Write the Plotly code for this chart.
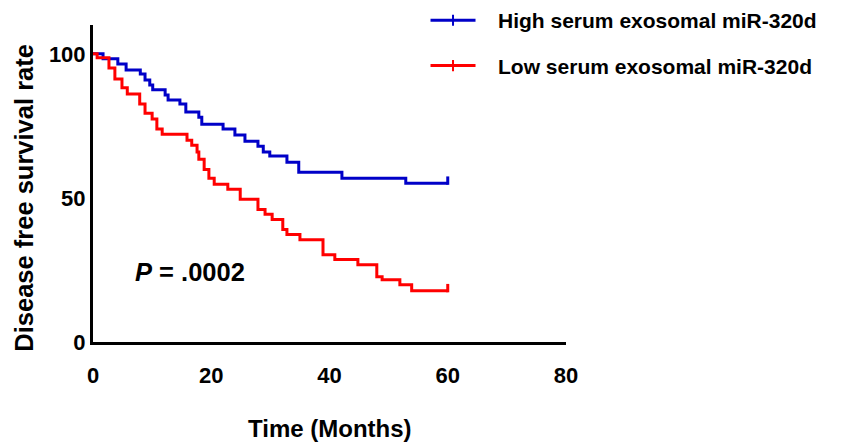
import plotly.graph_objects as go

# Kaplan-Meier style step data (months, % disease-free)
high_time = [0, 1.7, 4.2, 5.6, 8.0, 8.8, 9.6, 10.1, 12.2, 12.7, 14.7, 15.7, 17.9, 18.4,
             22.0, 24.0, 25.7, 27.9, 28.8, 29.9, 32.8, 34.8, 42.1, 52.9, 60]
high_surv = [100, 98.3, 96.5, 94.4, 93.0, 90.9, 89.2, 87.5, 85.7, 84.0, 82.6, 79.8, 78.0, 75.6,
             73.9, 71.8, 69.7, 67.9, 65.9, 64.5, 62.4, 58.9, 56.8, 55.1, 55.1]

low_time = [0, 0.7, 2.7, 3.7, 4.9, 5.8, 7.9, 8.8, 10.0, 10.8, 11.7, 15.9, 16.7, 17.6, 17.9,
            18.8, 19.6, 20.5, 22.8, 24.9, 27.9, 29.1, 30.3, 32.1, 32.8, 35.0, 38.9, 40.9,
            44.8, 48.0, 48.9, 51.9, 53.9, 60]
low_surv = [100, 98.6, 95.1, 91.3, 88.2, 86.1, 82.6, 79.4, 77.4, 73.9, 72.1, 70.0, 68.3, 65.9, 63.4,
            59.9, 56.8, 54.7, 53.0, 49.5, 46.0, 44.3, 42.5, 39.0, 37.3, 35.5, 30.3, 28.6,
            26.8, 22.6, 21.6, 19.9, 17.8, 17.8]

high_label = "High serum exosomal miR-320d"
low_label = "Low serum exosomal miR-320d"
x_ticks = [0, 20, 40, 60, 80]
y_ticks = [0, 50, 100]
p_text = "<b><i>P</i> = .0002</b>"

BLUE = "#0000C8"
RED = "#FF0000"
FONT = "Liberation Sans, Arial, sans-serif"
NB = "\u00a0\u00a0\u00a0"

fig = go.Figure()

for t, s, col, name, grp in [(high_time, high_surv, BLUE, high_label, "h"),
                             (low_time, low_surv, RED, low_label, "l")]:
    fig.add_trace(go.Scatter(x=t, y=s, mode="lines", line=dict(color=col, width=3, shape="hv"),
                             showlegend=False, legendgroup=grp, hoverinfo="skip"))
    # censor mark at the end of follow-up
    fig.add_trace(go.Scatter(x=[t[-1]], y=[s[-1] + 0.9], mode="markers",
                             marker=dict(symbol="line-ns", size=6, line=dict(color=col, width=3)),
                             showlegend=False, legendgroup=grp, hoverinfo="skip"))
    # legend entry
    fig.add_trace(go.Scatter(x=[None], y=[None], mode="lines+markers", name=NB + name,
                             line=dict(color=col, width=3),
                             marker=dict(symbol="line-ns", size=8, line=dict(color=col, width=2)),
                             legendgroup=grp))

fig.add_annotation(x=6.8, y=24.4, xref="x", yref="y", text=p_text, showarrow=False,
                   xanchor="left", yanchor="middle", font=dict(size=25.5, color="black", family=FONT))

fig.add_annotation(x=0.5, y=-0.272, xref="paper", yref="paper", text="<b>Time (Months)</b>",
                   showarrow=False, xanchor="center", yanchor="middle",
                   font=dict(size=24, color="black", family=FONT))
fig.add_annotation(x=-0.146, y=0.455, xref="paper", yref="paper", text="<b>Disease free survival rate</b>",
                   showarrow=False, textangle=-90, xanchor="center", yanchor="middle",
                   font=dict(size=25.5, color="black", family=FONT))

fig.update_xaxes(range=[0, 80], tickvals=x_ticks, showgrid=False, zeroline=False,
                 showline=True, linecolor="black", linewidth=3,
                 ticks="outside", ticklen=12, tickcolor="rgba(0,0,0,0)",
                 tickfont=dict(size=22, color="black", family=FONT, weight="bold"))
fig.update_yaxes(range=[0, 110], tickvals=y_ticks, showgrid=False, zeroline=False,
                 showline=True, linecolor="black", linewidth=3,
                 ticks="",
                 tickfont=dict(size=22, color="black", family=FONT, weight="bold"))

# page body has an 8px margin: figure is shrunk by 8px and margins shifted accordingly
fig.update_layout(
    width=834, height=436,
    margin=dict(l=85, r=276, t=17, b=102, autoexpand=False),
    plot_bgcolor="white", paper_bgcolor="white",
    font=dict(family=FONT, color="black"),
    legend=dict(x=0.703, y=1.0785, xanchor="left", yanchor="top",
                font=dict(size=21, color="black", family=FONT, weight="bold"),
                tracegroupgap=15, itemwidth=45, bgcolor="rgba(0,0,0,0)"),
)

fig.write_html("out.html")
